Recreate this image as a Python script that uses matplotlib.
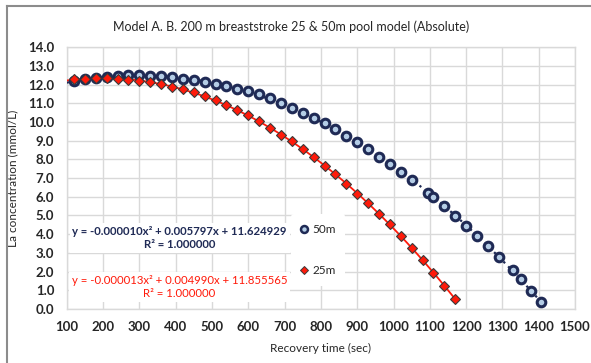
#!/usr/bin/env python3
"""
Model A. B. 200 m breaststroke - La recovery curves, 25m vs 50m pool
"""

import numpy as np
import matplotlib
matplotlib.use('Agg')
import matplotlib.pyplot as plt
from matplotlib.lines import Line2D

# 50m pool
time_50 = [120, 150, 180, 210, 240, 270, 300, 330, 360, 390, 420, 450, 480,
           510, 540, 570, 600, 630, 660, 690, 720, 750, 780, 810, 840, 870,
           900, 930, 960, 990, 1020, 1050, 1095, 1110, 1140, 1170, 1200,
           1230, 1260, 1290, 1330, 1350, 1380, 1405]
la_50 = [12.17, 12.28, 12.36, 12.43, 12.48, 12.51, 12.51, 12.48, 12.45, 12.38,
         12.32, 12.24, 12.12, 12.02, 11.90, 11.78, 11.64, 11.48, 11.30, 11.02,
         10.76, 10.50, 10.23, 9.94, 9.60, 9.26, 8.93, 8.56, 8.14, 7.75, 7.34,
         6.90, 6.22, 5.98, 5.49, 4.99, 4.46, 3.92, 3.37, 2.76, 2.09, 1.59,
         0.96, 0.39]

# 25m pool
time_25 = [120, 150, 180, 210, 240, 270, 300, 330, 360, 390, 420, 450, 480,
           510, 540, 570, 600, 630, 660, 690, 720, 750, 780, 810, 840, 870,
           900, 930, 960, 990, 1020, 1050, 1080, 1110, 1140, 1170]
la_25 = [12.29, 12.32, 12.34, 12.33, 12.32, 12.27, 12.20, 12.12, 12.01, 11.89,
         11.75, 11.58, 11.39, 11.17, 10.90, 10.62, 10.37, 10.03, 9.66, 9.30,
         8.96, 8.55, 8.12, 7.66, 7.20, 6.70, 6.17, 5.66, 5.10, 4.52, 3.91,
         3.27, 2.62, 1.91, 1.23, 0.56]

eq_50 = 'y = -0.000010x\u00b2 + 0.005797x + 11.624929\nR\u00b2 = 1.000000'
eq_25 = 'y = -0.000013x\u00b2 + 0.004990x + 11.855565\nR\u00b2 = 1.000000'

NAVY = '#1f2a55'
LIGHT = '#b4cde6'
RED = '#ff1a0a'

plt.rcParams['font.family'] = ['Lato', 'DejaVu Sans']

fig = plt.figure(figsize=(5.91, 3.63), dpi=100)
ax = fig.add_axes([0.1129, 0.1488, 0.8601, 0.7212])

# quadratic trendlines (like Excel), drawn back to x=100
c50 = np.polyfit(time_50, la_50, 2)
c25 = np.polyfit(time_25, la_25, 2)
xt50 = np.linspace(100, time_50[-1], 300)
xt25 = np.linspace(100, time_25[-1], 300)
ax.plot(xt50, np.polyval(c50, xt50), color=NAVY, linestyle=(0, (1, 2)),
        linewidth=1.6, zorder=3)
ax.plot(xt25, np.polyval(c25, xt25), color=RED, linewidth=1.3, zorder=3)

ax.plot(time_50, la_50, 'o', markersize=6.2, markerfacecolor=LIGHT,
        markeredgecolor=NAVY, markeredgewidth=2.2, zorder=4)
ax.plot(time_25, la_25, 'D', markersize=5.2, markerfacecolor=RED,
        markeredgecolor='#3a3a3a', markeredgewidth=0.8, zorder=4)

ax.set_xlim(100, 1500)
ax.set_ylim(0, 14)
ax.set_xticks(np.arange(100, 1501, 100))
ax.set_yticks(np.arange(0, 14.1, 1.0))
ax.set_yticklabels([f'{v:.1f}' for v in np.arange(0, 14.1, 1.0)])
ax.tick_params(axis='y', length=0, labelsize=9.5, colors='#262626', pad=9)
ax.tick_params(axis='x', length=0, labelsize=9.5, colors='#262626', pad=9)
for lab in ax.get_xticklabels() + ax.get_yticklabels():
    lab.set_fontweight('bold')
ax.grid(True, color='#d9d9d9', linewidth=1.0, zorder=0)
ax.set_axisbelow(True)
for s in ax.spines.values():
    s.set_color('#d9d9d9')
    s.set_linewidth(1.0)

ax.set_xlabel('Recovery time (sec)', fontsize=8.5, color='#262626', labelpad=7)
ax.set_ylabel('La concentration (mmol/L)', fontsize=8.5, color='#262626',
              labelpad=7)
fig.text(0.493, 0.925, 'Model A. B. 200 m breaststroke 25 & 50m pool model (Absolute)',
         ha='center', va='center', fontsize=9, color='#262626')

# trendline labels
ax.text(0.222, 0.271, eq_50, transform=ax.transAxes, ha='center', va='center',
        fontsize=8.2, fontweight='bold', color=NAVY, linespacing=1.3,
        bbox=dict(facecolor='white', edgecolor='none', pad=2), zorder=5)
ax.text(0.222, 0.084, eq_25, transform=ax.transAxes, ha='center', va='center',
        fontsize=8.2, color=RED, linespacing=1.3,
        bbox=dict(facecolor='white', edgecolor='none', pad=2), zorder=5)

handles = [
    Line2D([], [], linestyle='none', marker='o', markersize=5.0,
           markerfacecolor=LIGHT, markeredgecolor=NAVY, markeredgewidth=1.8),
    Line2D([], [], linestyle='none', marker='D', markersize=4.2,
           markerfacecolor=RED, markeredgecolor='#3a3a3a', markeredgewidth=0.7),
]
leg = ax.legend(handles, ['50m', '25m'], loc='center left',
                bbox_to_anchor=(0.43, 0.225), frameon=True, fontsize=8.5,
                labelspacing=2.6, handlelength=0.6, handletextpad=0.4,
                borderpad=0.8, framealpha=1.0)
leg.get_frame().set_edgecolor('none')
leg.get_frame().set_facecolor('white')
leg.set_zorder(5)
for t in leg.get_texts():
    t.set_color('#262626')

# outer chart border (cropped image)
fig.add_artist(Line2D([0.012, 0.012], [0, 0.983], color='#8c8c8c',
                      linewidth=1.5, transform=fig.transFigure))
fig.add_artist(Line2D([0.012, 1.0], [0.983, 0.983], color='#8c8c8c',
                      linewidth=1.5, transform=fig.transFigure))

fig.savefig('out.png', dpi=100)
plt.close(fig)
